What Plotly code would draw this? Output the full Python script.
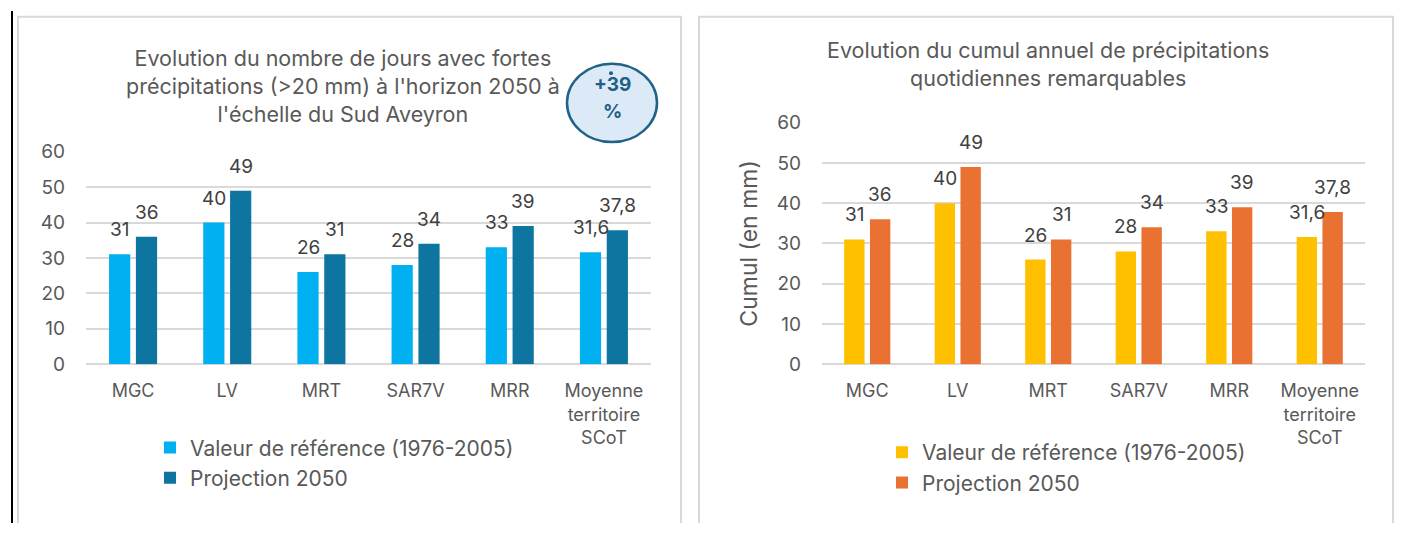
import plotly.graph_objects as go

W, H = 1401, 535

categories = ["MGC", "LV", "MRT", "SAR7V", "MRR", "Moyenne<br>territoire<br>SCoT"]
jours_reference = [31, 40, 26, 28, 33, 31.6]
jours_projection = [36, 49, 31, 34, 39, 37.8]
cumul_reference = [31, 40, 26, 28, 33, 31.6]
cumul_projection = [36, 49, 31, 34, 39, 37.8]
series_names = ["Valeur de référence (1976-2005)", "Projection 2050"]
title_left = "Evolution du nombre de jours avec fortes<br>précipitations (>20 mm) à l'horizon 2050 à<br>l'échelle du Sud Aveyron"
title_right = "Evolution du cumul annuel de précipitations<br>quotidiennes remarquables"
badge_text = ["+39", "%"]
y_title_right = "Cumul (en mm)"

FONT = "Inter, Open Sans, Liberation Sans, Arial, sans-serif"
GRID = "#D9D9D9"
TXT = "#595959"
LBL = "#404040"

BARGAP = 0.43
GROUPGAP = 0.21


def px(x):
    return x / W


def py(y):
    return 1 - y / H


def fmt(v):
    s = f"{v:g}"
    return s.replace(".", ",")


fig = go.Figure()

colors_left = ["#00B0F0", "#0E75A0"]
colors_right = ["#FFC000", "#E97132"]

for name, vals, col in zip(series_names, [jours_reference, jours_projection], colors_left):
    fig.add_trace(go.Bar(x=categories, y=vals, name=name, marker_color=col,
                         marker_line_width=0, xaxis="x", yaxis="y", legend="legend"))
for name, vals, col in zip(series_names, [cumul_reference, cumul_projection], colors_right):
    fig.add_trace(go.Bar(x=categories, y=vals, name=name, marker_color=col,
                         marker_line_width=0, xaxis="x2", yaxis="y2", legend="legend2"))

annotations = []
half = (1 - BARGAP) / 4.0
for xref, series in (("x", [jours_reference, jours_projection]), ("x2", [cumul_reference, cumul_projection])):
    yref = "y" if xref == "x" else "y2"
    for si, vals in enumerate(series):
        off = -half if si == 0 else half
        for i, v in enumerate(vals):
            annotations.append(dict(x=i + off, y=v, xref=xref, yref=yref, text=fmt(v),
                                    showarrow=False, yanchor="bottom", yshift=11,
                                    font=dict(family=FONT, size=19, color=LBL)))

annotations.append(dict(x=px(343), y=py(78), xref="paper", yref="paper", text=title_left,
                        showarrow=False, xanchor="center", yanchor="middle",
                        font=dict(family=FONT, size=21.5, color=TXT)))
annotations.append(dict(x=px(1048), y=py(55), xref="paper", yref="paper", text=title_right,
                        showarrow=False, xanchor="center", yanchor="middle",
                        font=dict(family=FONT, size=21.5, color=TXT)))
annotations.append(dict(x=px(612), y=py(77), xref="paper", yref="paper", text="<b>" + badge_text[0] + "</b>",
                        showarrow=False, xanchor="center", yanchor="middle",
                        font=dict(family=FONT, size=19, color="#1F5F85")))
annotations.append(dict(x=px(612), y=py(105), xref="paper", yref="paper", text="<b>" + badge_text[1] + "</b>",
                        showarrow=False, xanchor="center", yanchor="middle",
                        font=dict(family=FONT, size=19, color="#1F5F85")))


def open_box(x0, x1, ytop):
    return dict(type="path", xref="paper", yref="paper",
                path=f"M {px(x0)},0 L {px(x0)},{py(ytop)} L {px(x1)},{py(ytop)} L {px(x1)},0",
                line=dict(color=GRID, width=2), layer="below")


shapes = [
    open_box(18, 681, 6),
    open_box(699, 1393, 6),
    dict(type="line", xref="paper", yref="paper", x0=px(12), x1=px(12), y0=0, y1=1,
         line=dict(color="#000000", width=2)),
    dict(type="circle", xref="paper", yref="paper", x0=px(567), x1=px(657), y0=py(137), y1=py(55),
         line=dict(color="#1F6389", width=2.5), fillcolor="#DCE9F6"),
    dict(type="circle", xref="paper", yref="paper", x0=px(609), x1=px(613), y0=py(67), y1=py(63),
         line=dict(width=0), fillcolor="#1F5F85"),
]

yax_common = dict(range=[0, 60], dtick=10, showgrid=True, gridcolor=GRID, gridwidth=1.5,
                  zeroline=True, zerolinecolor=GRID, zerolinewidth=1.5, showline=False,
                  ticks="", ticklabelstandoff=20, fixedrange=True,
                  tickfont=dict(family=FONT, size=19, color=TXT))
xax_common = dict(type="category", showgrid=False, showline=False, zeroline=False, ticks="",
                  ticklabelstandoff=14, tickfont=dict(family=FONT, size=18, color=TXT))

fig.update_layout(
    width=W, height=H,
    margin=dict(l=0, r=0, t=0, b=0),
    paper_bgcolor="white", plot_bgcolor="white",
    barmode="group", bargap=BARGAP, bargroupgap=GROUPGAP,
    xaxis=dict(domain=[px(86), px(651)], anchor="y", **xax_common),
    yaxis=dict(domain=[py(369), py(147)], anchor="x", **yax_common),
    xaxis2=dict(domain=[px(822), px(1365)], anchor="y2", **xax_common),
    yaxis2=dict(domain=[py(369), py(116.7)], anchor="x2",
                title=dict(text=y_title_right, standoff=12, font=dict(family=FONT, size=23, color=TXT)),
                **yax_common),
    legend=dict(x=px(150), y=py(435), xanchor="left", yanchor="top", orientation="v",
                font=dict(family=FONT, size=21, color=TXT), bgcolor="rgba(0,0,0,0)",
                tracegroupgap=0, itemclick=False, itemdoubleclick=False),
    legend2=dict(x=px(882), y=py(440), xanchor="left", yanchor="top", orientation="v",
                 font=dict(family=FONT, size=21, color=TXT), bgcolor="rgba(0,0,0,0)",
                 tracegroupgap=0, itemclick=False, itemdoubleclick=False),
    annotations=annotations,
    shapes=shapes,
    showlegend=True,
)

fig.write_html("out.html", config={"displayModeBar": False},
               post_script="document.body.style.margin='0';document.body.style.overflow='hidden';")
